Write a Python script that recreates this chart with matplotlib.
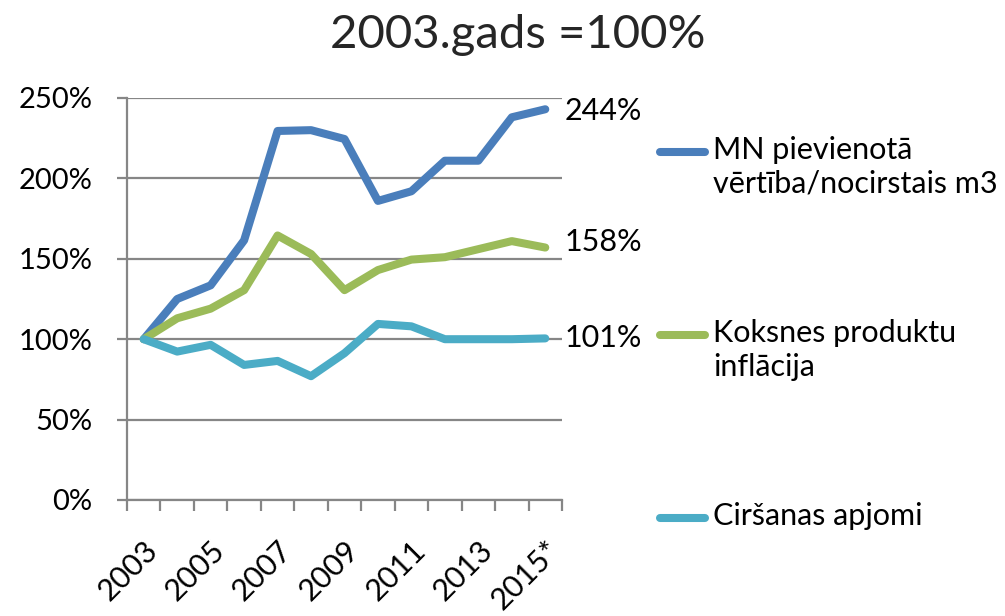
import numpy as np
import matplotlib
matplotlib.use('Agg')
import matplotlib.pyplot as plt
from matplotlib.lines import Line2D

plt.rcParams['font.family'] = ['Lato', 'DejaVu Sans']

# dati
years = ['2003', '2004', '2005', '2006', '2007', '2008', '2009',
         '2010', '2011', '2012', '2013', '2014', '2015*']
mn_vertiba = [100, 125, 133.5, 161.5, 229.5, 230, 224.5, 186, 192, 211, 211, 238, 243]
inflacija = [100, 113, 119, 130.5, 164.5, 153, 130.5, 143, 149.5, 151, 156, 161, 157]
apjomi = [100, 92.3, 96.5, 84, 86.5, 77, 91.3, 109.5, 108, 100, 100, 100, 100.5]
end_labels = ['244%', '158%', '101%']
y_ticks = [0, 50, 100, 150, 200, 250]

names = ['MN pievienotā\nvērtība/nocirstais m3', 'Koksnes produktu\ninflācija', 'Ciršanas apjomi']
colors = ['#4a7ebb', '#9bbb59', '#4bacc6']
grey = '#868686'

fig = plt.figure(figsize=(10.05, 6.16), dpi=100)
ax = fig.add_axes([127/1005, 1 - 500/616, (562-127)/1005, (500-98)/616])

x = np.arange(len(years))
series = [mn_vertiba, inflacija, apjomi]
for vals, c in zip(series, colors):
    ax.plot(x, vals, color=c, lw=5.8, solid_capstyle='round', solid_joinstyle='round', zorder=3)

# vērtību etiķetes pie pēdējā punkta
for vals, lab, dy in zip(series, end_labels, [-1, 4, 0]):
    ax.annotate(lab, xy=(x[-1], vals[-1]), xytext=(14, dy), textcoords='offset points',
                ha='left', va='center', fontsize=22, color='black', annotation_clip=False)

ax.set_xlim(-0.5, len(years) - 0.5)
ax.set_ylim(0, 250)
ax.set_yticks(y_ticks)
ax.set_yticklabels([f'{v}%' for v in y_ticks])
ax.grid(axis='y', color=grey, lw=1.6, zorder=1)
ax.set_axisbelow(True)

ax.set_xticks(x[::2])
ax.set_xticklabels(years[::2], rotation=45, ha='right', va='top', rotation_mode='anchor')
ax.set_xticks(np.arange(len(years) + 1) - 0.5, minor=True)
ax.tick_params(axis='x', which='major', length=0, pad=26, labelsize=22)
ax.tick_params(axis='x', which='minor', length=8, width=1.6, color=grey)
ax.tick_params(axis='y', length=7, width=1.6, color=grey, labelsize=21, pad=18)

for s in ['top', 'right']:
    ax.spines[s].set_visible(False)
for s in ['left', 'bottom']:
    ax.spines[s].set_color(grey)
    ax.spines[s].set_linewidth(1.6)

fig.text(518/1005, 1 - 35/616, '2003.gads =100%', ha='center', va='center', fontsize=34,
         color='#262626')

# leģenda
leg_y = [152, 335, 518]
for name, c, ly in zip(names, colors, leg_y):
    fig.add_artist(Line2D([660/1005, 705/1005], [1 - ly/616, 1 - ly/616], color=c, lw=5.8,
                          solid_capstyle='round'))
    fig.text(713/1005, 1 - (ly - 16)/616, name, ha='left', va='top', fontsize=22,
             linespacing=1.25)

fig.savefig('out.png', dpi=100)
